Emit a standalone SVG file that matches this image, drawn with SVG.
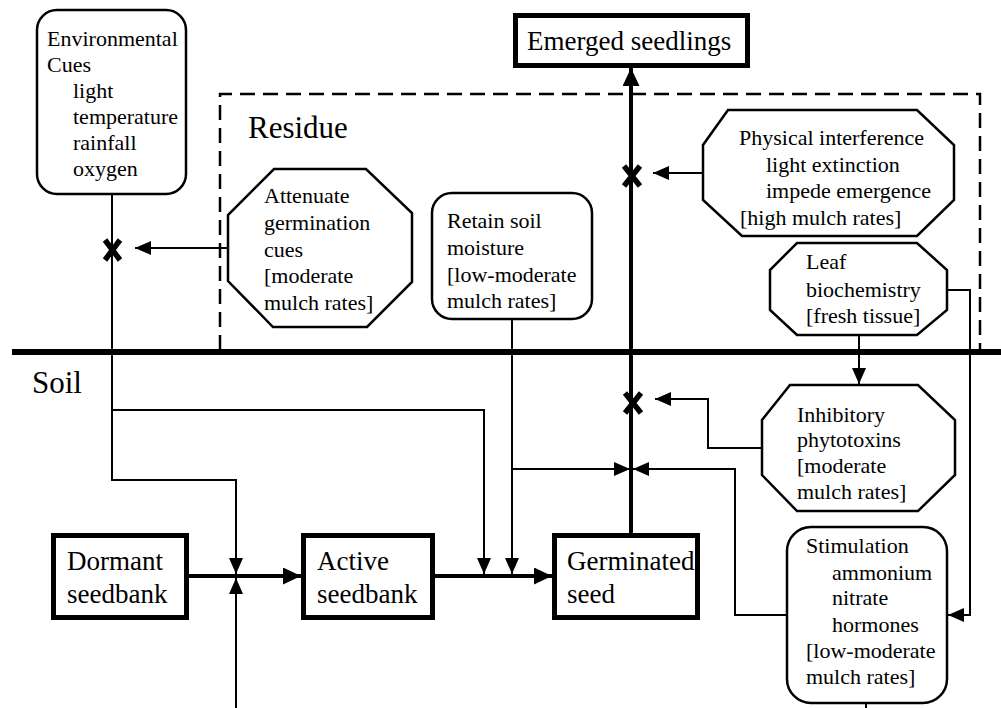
<svg xmlns="http://www.w3.org/2000/svg" width="1001" height="708" viewBox="0 0 1001 708">
<style>
text{font-family:"Liberation Serif","Times New Roman",serif;fill:#000}
.s{font-size:22px}
.m{font-size:27px}
.l{font-size:31px}
.main{fill:#fff;stroke:#000;stroke-width:5}
.box{fill:#fff;stroke:#000;stroke-width:2.5}
.thin{fill:none;stroke:#000;stroke-width:2}
.thick{fill:none;stroke:#000;stroke-width:4}
.xm{fill:none;stroke:#000;stroke-width:5.5}
</style>
<defs>
<marker id="ah" viewBox="0 0 16 14" refX="16" refY="7" markerWidth="16" markerHeight="14" markerUnits="userSpaceOnUse" orient="auto">
<path d="M0,0 L16,7 L0,14 Z" fill="#000"/>
</marker>
<marker id="ahL" viewBox="0 0 18 17" refX="18" refY="8.5" markerWidth="18" markerHeight="17" markerUnits="userSpaceOnUse" orient="auto">
<path d="M0,0 L18,8.5 L0,17 Z" fill="#000"/>
</marker>
</defs>
<rect width="1001" height="708" fill="#fff"/>
<g id="residue">
<path d="M220,350 V94 H980 V350" fill="none" stroke="#000" stroke-width="2.5" stroke-dasharray="15,8"/>
<text class="l" x="248" y="138">Residue</text>
</g>
<g id="soil">
<path d="M12,352 H1001" stroke="#000" stroke-width="6"/>
<text class="l" x="32" y="393">Soil</text>
</g>
<g id="connectors">
<path class="thin" d="M112,194 V480 H236 V574" marker-end="url(#ah)"/>
<path class="thin" d="M112,410 H484 V574" marker-end="url(#ah)"/>
<path class="thin" d="M228,248 H135" marker-end="url(#ah)"/>
<path class="thin" d="M512,319 V574" marker-end="url(#ah)"/>
<path class="thin" d="M512,469 H630" marker-end="url(#ah)"/>
<path class="thin" d="M787,615 H735 V469 H633" marker-end="url(#ah)"/>
<path class="thin" d="M762,448 H708 V399 H655" marker-end="url(#ah)"/>
<path class="thin" d="M859,335 V384" marker-end="url(#ah)"/>
<path class="thin" d="M947,290 H970 V615 H948" marker-end="url(#ah)"/>
<path class="thin" d="M703,173 H653" marker-end="url(#ah)"/>
<path class="thin" d="M236,708 V578" marker-end="url(#ah)"/>
<path class="thin" d="M866,703 V708"/>
<path class="thick" d="M631,533 V68" marker-end="url(#ahL)"/>
<path class="thick" d="M189,576 H301" marker-end="url(#ahL)"/>
<path class="thick" d="M435,576 H552" marker-end="url(#ahL)"/>
<path class="xm" d="M105,240 L120,260 M120,240 L105,260"/>
<path class="xm" d="M624,166 L640,186 M640,166 L624,186"/>
<path class="xm" d="M625,393 L641,413 M641,393 L625,413"/>
</g>
<g id="env">
<rect class="box" x="37" y="10" width="149" height="184" rx="20"/>
<text class="s" x="47" y="46">Environmental</text>
<text class="s" x="47" y="72">Cues</text>
<text class="s" x="73" y="98">light</text>
<text class="s" x="73" y="124">temperature</text>
<text class="s" x="73" y="150">rainfall</text>
<text class="s" x="73" y="176">oxygen</text>
</g>
<g id="emerged">
<rect class="main" x="515.5" y="15.5" width="232" height="50"/>
<text class="m" x="527" y="50">Emerged seedlings</text>
</g>
<g id="attenuate">
<polygon class="box" points="274,169 366,169 412,213 412,282 367,327 273,327 228,281 228,215"/>
<text class="s" x="264" y="203">Attenuate</text>
<text class="s" x="264" y="230">germination</text>
<text class="s" x="264" y="257">cues</text>
<text class="s" x="264" y="283">[moderate</text>
<text class="s" x="264" y="310">mulch rates]</text>
</g>
<g id="retain">
<rect class="box" x="432" y="193" width="160" height="126" rx="20"/>
<text class="s" x="447" y="228">Retain soil</text>
<text class="s" x="447" y="255">moisture</text>
<text class="s" x="447" y="282">[low-moderate</text>
<text class="s" x="447" y="308">mulch rates]</text>
</g>
<g id="physical">
<polygon class="box" points="728,110 917,110 954,145 954,200 917,236 742,236 703,200 703,145"/>
<text class="s" x="739" y="145">Physical interference</text>
<text class="s" x="766" y="172">light extinction</text>
<text class="s" x="766" y="198">impede emergence</text>
<text class="s" x="740" y="225">[high mulch rates]</text>
</g>
<g id="leaf">
<polygon class="box" points="797,243 917,243 947,270 947,310 917,335 797,335 770,310 770,270"/>
<text class="s" x="806" y="269">Leaf</text>
<text class="s" x="806" y="297">biochemistry</text>
<text class="s" x="806" y="323">[fresh tissue]</text>
</g>
<g id="inhibitory">
<polygon class="box" points="790,385 918,385 955,420 955,475 918,511 797,511 762,475 762,420"/>
<text class="s" x="797" y="422">Inhibitory</text>
<text class="s" x="797" y="447">phytotoxins</text>
<text class="s" x="797" y="473">[moderate</text>
<text class="s" x="797" y="499">mulch rates]</text>
</g>
<g id="stimulation">
<rect class="box" x="787" y="527" width="160" height="176" rx="24"/>
<text class="s" x="806" y="553">Stimulation</text>
<text class="s" x="832" y="580">ammonium</text>
<text class="s" x="832" y="605">nitrate</text>
<text class="s" x="832" y="632">hormones</text>
<text class="s" x="806" y="658">[low-moderate</text>
<text class="s" x="806" y="684">mulch rates]</text>
</g>
<g id="dormant">
<rect class="main" x="53.5" y="535.5" width="133" height="82"/>
<text class="m" x="67" y="570">Dormant</text>
<text class="m" x="67" y="603">seedbank</text>
</g>
<g id="active">
<rect class="main" x="303.5" y="535.5" width="129" height="82"/>
<text class="m" x="317" y="570">Active</text>
<text class="m" x="317" y="603">seedbank</text>
</g>
<g id="germinated">
<rect class="main" x="554.5" y="535.5" width="143" height="82"/>
<text class="m" x="567" y="570">Germinated</text>
<text class="m" x="567" y="603">seed</text>
</g>
</svg>
